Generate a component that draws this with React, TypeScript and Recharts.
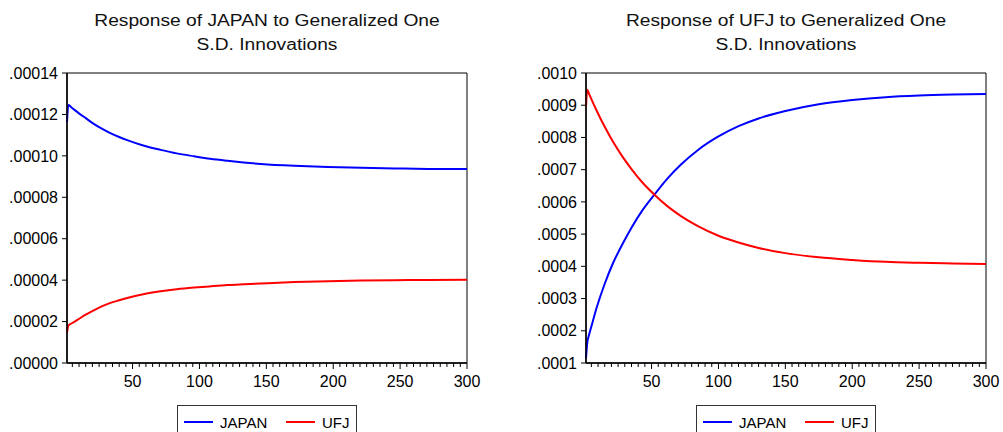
import React from "react";
import { LineChart, Line, XAxis, YAxis, ReferenceArea } from "recharts";

// values (period -> response)
const leftPeriods = [1, 2, 5, 9, 15, 21, 27, 33, 40, 46, 58, 71, 83, 96, 108, 121, 133, 146, 171, 196, 221, 246, 271, 300];
const leftJapan = [
	0.0001162, 0.0001245, 0.000123, 0.000121, 0.0001182, 0.0001154, 0.0001131, 0.0001111, 0.0001091, 0.0001076,
	0.000105, 0.0001029, 0.0001012, 0.0000998, 0.0000986, 0.0000976, 0.0000968, 0.0000961, 0.0000952, 0.0000946,
	0.0000942, 0.0000939, 0.0000937, 0.0000936,
];
const leftUfj = [
	0.0000145, 0.000018, 0.0000193, 0.0000209, 0.0000233, 0.0000254, 0.0000273, 0.0000289, 0.0000303, 0.0000314,
	0.0000332, 0.0000346, 0.0000356, 0.0000364, 0.000037, 0.0000376, 0.000038, 0.0000384, 0.0000391, 0.0000395,
	0.0000398, 0.00004, 0.0000401, 0.0000402,
];

const rightPeriods = [1, 2, 3, 5, 9, 15, 21, 28, 35, 43, 52, 62, 72, 85, 100, 115, 130, 150, 175, 200, 225, 250, 275, 300];
const rightJapan = [
	0.000115, 0.000165, 0.000183, 0.000213, 0.000272, 0.000346, 0.000408, 0.000467, 0.00052, 0.000573, 0.000622,
	0.000673, 0.000716, 0.000762, 0.000803, 0.000835, 0.000859, 0.000882, 0.000903, 0.000916, 0.000925, 0.00093,
	0.000933, 0.000935,
];
const rightUfj = [
	0.000896, 0.000948, 0.000938, 0.000919, 0.000883, 0.000833, 0.000788, 0.000742, 0.000702, 0.000661, 0.000623,
	0.000586, 0.000556, 0.000524, 0.000495, 0.000474, 0.000457, 0.000441, 0.000428, 0.00042, 0.000414, 0.000411,
	0.000409, 0.000407,
];

const leftYTicks = [0, 0.00002, 0.00004, 0.00006, 0.00008, 0.0001, 0.00012, 0.00014];
const rightYTicks = [0.0001, 0.0002, 0.0003, 0.0004, 0.0005, 0.0006, 0.0007, 0.0008, 0.0009, 0.001];
const xMajorTicks = [50, 100, 150, 200, 250, 300];
const xAllTicks = Array.from({ length: 60 }, (_, i) => (i + 1) * 5);

const FONT = "'Liberation Sans', Arial, sans-serif";

const XTick = (props: any) => {
	const { x, y, payload } = props;
	const major = xMajorTicks.includes(payload.value);
	return (
		<g>
			<line x1={x} y1={y} x2={x} y2={y + (major ? 6 : 4)} stroke="#000" strokeWidth={1} />
			{major && (
				<text x={x} y={y + 24} textAnchor="middle" fontSize={16} fill="#000" fontFamily={FONT}>
					{payload.value}
				</text>
			)}
		</g>
	);
};

type PanelProps = {
	periods: number[];
	japan: number[];
	ufj: number[];
	yDomain: [number, number];
	yTicks: number[];
	digits: number;
	width: number;
	marginRight: number;
};

function Panel({ periods, japan, ufj, yDomain, yTicks, digits, width, marginRight }: PanelProps) {
	const data = periods.map((p, i) => ({ period: p, JAPAN: japan[i], UFJ: ufj[i] }));
	return (
		<LineChart width={width} height={432} data={data} margin={{ top: 73, right: marginRight, bottom: 39, left: 0 }}>
			<XAxis
				dataKey="period"
				type="number"
				domain={[1, 300]}
				ticks={xAllTicks}
				interval={0}
				height={30}
				tickSize={0}
				tickMargin={0}
				tickLine={false}
				axisLine={{ stroke: "#000", strokeWidth: 1.5 }}
				tick={<XTick />}
			/>
			<YAxis
				type="number"
				width={67}
				domain={yDomain}
				ticks={yTicks}
				interval={0}
				tickSize={5}
				tickMargin={4}
				tickLine={{ stroke: "#000" }}
				axisLine={{ stroke: "#000", strokeWidth: 1.5 }}
				tick={{ fill: "#000", fontSize: 16, fontFamily: FONT }}
				tickFormatter={(v: number) => v.toFixed(digits).replace(/^0/, "")}
			/>
			<ReferenceArea x1={1} x2={300} y1={yDomain[0]} y2={yDomain[1]} fill="none" stroke="#000" strokeWidth={1} />
			<Line type="monotone" dataKey="JAPAN" stroke="#0000ff" strokeWidth={2} dot={false} isAnimationActive={false} />
			<Line type="monotone" dataKey="UFJ" stroke="#ff0000" strokeWidth={2} dot={false} isAnimationActive={false} />
		</LineChart>
	);
}

function Title({ center, lines }: { center: number; lines: string[] }) {
	return (
		<div
			style={{
				position: "absolute",
				left: center - 250,
				top: 9,
				width: 500,
				textAlign: "center",
				fontFamily: FONT,
				fontSize: 16,
				lineHeight: "24px",
				color: "#111",
				transform: "scaleX(1.2)",
			}}
		>
			{lines.map((l) => (
				<div key={l}>{l}</div>
			))}
		</div>
	);
}

function LegendBox({ center }: { center: number }) {
	const item = (color: string, label: string, left: number) => (
		<div style={{ position: "absolute", left, top: 0, height: 32, display: "flex", alignItems: "center" }}>
			<div style={{ width: 29, height: 2, background: color, marginRight: 7 }} />
			<span style={{ fontFamily: FONT, fontSize: 15, color: "#000" }}>{label}</span>
		</div>
	);
	return (
		<div
			style={{
				position: "absolute",
				left: center - 90,
				top: 405,
				width: 180,
				height: 40,
				border: "1px solid #333",
				boxSizing: "border-box",
				background: "#fff",
			}}
		>
			{item("#0000ff", "JAPAN", 6)}
			{item("#ff0000", "UFJ", 108)}
		</div>
	);
}

export default function App() {
	return (
		<div style={{ position: "absolute", left: 0, top: 0, width: 1003, height: 432, background: "#fff", overflow: "hidden" }}>
			<div style={{ position: "absolute", left: 0, top: 0 }}>
				<Panel
					periods={leftPeriods}
					japan={leftJapan}
					ufj={leftUfj}
					yDomain={[0, 0.00014]}
					yTicks={leftYTicks}
					digits={5}
					width={500}
					marginRight={33}
				/>
			</div>
			<div style={{ position: "absolute", left: 519, top: 0 }}>
				<Panel
					periods={rightPeriods}
					japan={rightJapan}
					ufj={rightUfj}
					yDomain={[0.0001, 0.001]}
					yTicks={rightYTicks}
					digits={4}
					width={484}
					marginRight={17}
				/>
			</div>
			<Title center={267} lines={["Response of JAPAN to Generalized One", "S.D. Innovations"]} />
			<Title center={786} lines={["Response of UFJ to Generalized One", "S.D. Innovations"]} />
			<LegendBox center={267} />
			<LegendBox center={786} />
		</div>
	);
}
